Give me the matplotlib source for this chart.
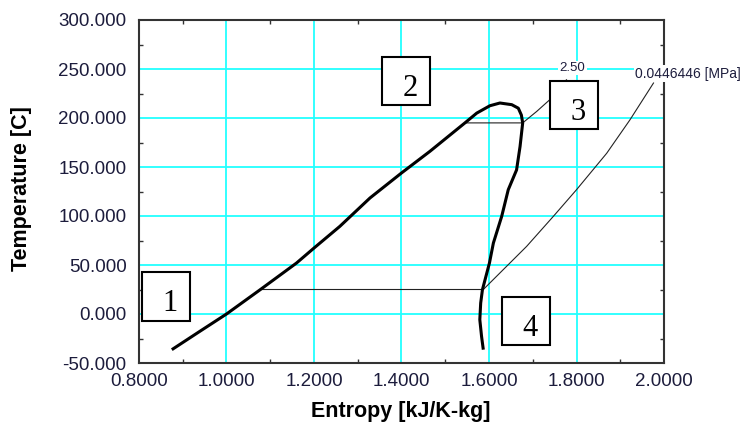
import numpy as np
import matplotlib
matplotlib.use('Agg')
import matplotlib.pyplot as plt
from matplotlib.patches import Rectangle
from matplotlib.ticker import MultipleLocator, FormatStrFormatter

# ---- data (entropy kJ/K-kg, temperature C) ----
liquid_s = [0.875, 0.939, 1.000, 1.077, 1.160, 1.200, 1.259, 1.328, 1.400, 1.465, 1.545]
liquid_T = [-36.4, -17.7, 0.0, 24.8, 52.0, 67.3, 89.4, 118.4, 143.9, 166.0, 195.0]
dome_top_s = [1.572, 1.602, 1.625, 1.652, 1.667, 1.674, 1.677]
dome_top_T = [205.0, 212.5, 215.3, 213.6, 210.0, 203.0, 195.0]
vapor_s = [1.671, 1.663, 1.644, 1.629, 1.610, 1.601, 1.591, 1.585, 1.581, 1.579, 1.583, 1.587]
vapor_T = [171.0, 147.0, 126.8, 99.6, 72.4, 52.0, 35.0, 24.8, 11.2, -5.8, -22.9, -36.4]

# high-pressure isobar (2.50 MPa)
hp_s = [1.545, 1.677, 1.709, 1.739, 1.777]
hp_T = [195.0, 195.0, 206.7, 218.7, 239.0]
hp_label = "2.50"

# low-pressure isobar (0.0446446 MPa)
lp_s = [1.077, 1.587, 1.686, 1.747, 1.800, 1.869, 1.922, 1.976]
lp_T = [25.0, 25.0, 69.0, 99.6, 126.8, 164.0, 198.0, 235.7]
lp_label = "0.0446446 [MPa]"

box_labels = ["1", "2", "3", "4"]
x_ticks = [0.8, 1.0, 1.2, 1.4, 1.6, 1.8, 2.0]
y_ticks = [-50, 0, 50, 100, 150, 200, 250, 300]
x_label = "Entropy [kJ/K-kg]"
y_label = "Temperature [C]"

# ---- figure ----
W, H = 746, 425
fig = plt.figure(figsize=(W / 100, H / 100), dpi=100)
ax = fig.add_axes([139 / W, 1 - 363 / H, 525 / W, 343 / H])

ax.set_xlim(0.8, 2.0)
ax.set_ylim(-50, 300)
ax.set_xticks(x_ticks)
ax.set_yticks(y_ticks)
ax.xaxis.set_major_formatter(FormatStrFormatter('%.4f'))
ax.yaxis.set_major_formatter(FormatStrFormatter('%.3f'))
ax.xaxis.set_minor_locator(MultipleLocator(0.1))
ax.yaxis.set_minor_locator(MultipleLocator(25))

ax.set_axisbelow(True)
ax.grid(True, which='major', color='#22ffff', lw=1.3)

tick_col = '#1c1c3c'
ax.tick_params(which='major', length=0, labelsize=13.5, labelcolor=tick_col,
               labelfontfamily='Liberation Sans')
ax.tick_params(axis='x', which='major', pad=7.5)
ax.tick_params(axis='y', which='major', pad=9)
ax.tick_params(which='minor', direction='in', length=3, width=1, color='#333333',
               top=True, right=True, bottom=True, left=True)
for sp in ax.spines.values():
    sp.set_color('#333333')
    sp.set_linewidth(1.5)

# saturation dome
dome_s = liquid_s + dome_top_s + vapor_s
dome_T = liquid_T + dome_top_T + vapor_T
ax.plot(dome_s, dome_T, color='black', lw=2.2, solid_capstyle='butt', zorder=3)

# isobars
ax.plot(hp_s, hp_T, color='#222222', lw=0.8, zorder=2)
ax.plot(lp_s, lp_T, color='#222222', lw=0.8, zorder=2)

ax.annotate(hp_label, xy=(hp_s[-1], hp_T[-1]), xytext=(4.5, 8.6), textcoords='offset points',
            ha='center', va='center', fontsize=9.5, color=tick_col, family='Liberation Sans',
            bbox=dict(boxstyle='square,pad=0.1', fc='white', ec='none'), zorder=6,
            annotation_clip=False)
ax.annotate(lp_label, xy=(lp_s[-1], lp_T[-1]), xytext=(-13.2, 6.7), textcoords='offset points',
            ha='left', va='center', fontsize=10, color=tick_col, family='Liberation Sans',
            bbox=dict(boxstyle='square,pad=0.1', fc='white', ec='none'), zorder=6,
            annotation_clip=False)

# axis labels
ax.set_xlabel(x_label, fontsize=15.5, fontweight='bold', family='Liberation Sans')
ax.xaxis.set_label_coords((401 - 139) / 525, (363 - 411) / 343)
ax.xaxis.label.set_va('center')
ax.set_ylabel(y_label, fontsize=15.5, fontweight='bold', family='Liberation Sans')
ax.yaxis.set_label_coords((22 - 139) / 525, (363 - 189) / 343)
ax.yaxis.label.set_va('center')

# numbered boxes (pixel positions)
boxes = [(141.7, 272.3, 190.0, 320.7), (381.7, 56.7, 430.0, 105.0),
         (550.0, 80.7, 598.3, 129.0), (501.7, 296.7, 550.0, 345.0)]
for (x0, y0, x1, y1), lab in zip(boxes, box_labels):
    r = Rectangle((x0 / W, 1 - y1 / H), (x1 - x0) / W, (y1 - y0) / H,
                  transform=fig.transFigure, fc='white', ec='black', lw=1.5, zorder=5)
    fig.add_artist(r)
    fig.text(((x0 + x1) / 2 + 4) / W, 1 - (y1 - 9.5) / H, lab, ha='center', va='baseline',
             fontsize=22, family='Liberation Serif', color='black', zorder=6)

fig.savefig('out.png', dpi=100)
